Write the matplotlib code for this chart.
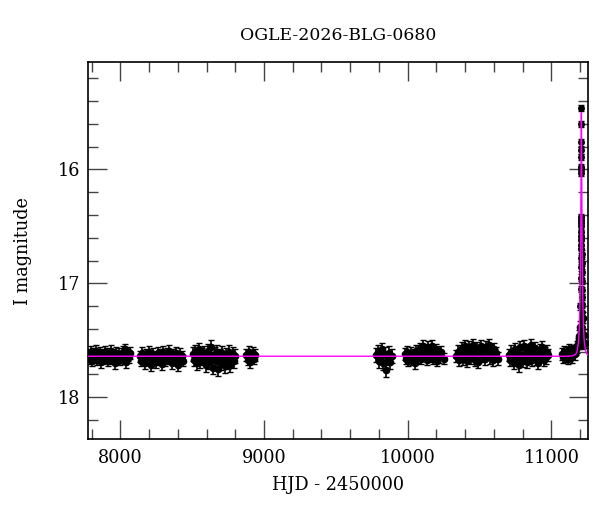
import numpy as np
import matplotlib
matplotlib.use('Agg')
from matplotlib import pyplot as plt
from matplotlib.ticker import MultipleLocator

# baseline seasons (HJD - 2450000, I mag)
s1_t = [7778, 7786, 7795, 7803, 7812, 7820, 7829, 7838, 7846, 7855, 7864, 7873, 7881, 7890, 7899, 7908, 7917,
        7925, 7934, 7943, 7952, 7961, 7970, 7979, 7988, 7997, 8006, 8015, 8024, 8033, 8042, 8051, 8060, 8068]
s1_m = [17.63, 17.66, 17.60, 17.68, 17.62, 17.65, 17.59, 17.67, 17.64, 17.61, 17.69, 17.63, 17.66, 17.60, 17.65,
        17.62, 17.68, 17.64, 17.59, 17.66, 17.63, 17.70, 17.61, 17.65, 17.62, 17.67, 17.64, 17.60, 17.66, 17.58,
        17.69, 17.63, 17.65, 17.61]
s2_t = [8134, 8143, 8152, 8161, 8170, 8179, 8188, 8197, 8206, 8215, 8224, 8233, 8242, 8251, 8260, 8269, 8278,
        8287, 8296, 8305, 8314, 8323, 8332, 8341, 8350, 8359, 8368, 8377, 8386, 8395, 8404, 8413, 8422, 8431, 8436]
s2_m = [17.64, 17.68, 17.61, 17.66, 17.70, 17.63, 17.67, 17.60, 17.65, 17.72, 17.62, 17.66, 17.64, 17.69, 17.61,
        17.67, 17.63, 17.71, 17.60, 17.65, 17.68, 17.62, 17.66, 17.59, 17.64, 17.70, 17.63, 17.67, 17.61, 17.65,
        17.72, 17.62, 17.66, 17.64, 17.68]
s3_t = [8503, 8512, 8521, 8530, 8539, 8548, 8557, 8566, 8575, 8584, 8593, 8602, 8611, 8620, 8629, 8638, 8647,
        8656, 8665, 8674, 8683, 8692, 8701, 8710, 8719, 8728, 8737, 8746, 8755, 8764, 8773, 8782, 8791, 8800]
s3_m = [17.62, 17.67, 17.60, 17.70, 17.64, 17.58, 17.68, 17.63, 17.66, 17.61, 17.72, 17.65, 17.59, 17.69, 17.56,
        17.66, 17.74, 17.62, 17.68, 17.60, 17.75, 17.64, 17.70, 17.61, 17.67, 17.73, 17.63, 17.69, 17.60, 17.72,
        17.65, 17.62, 17.68, 17.64]
s4_t = [8876, 8885, 8894, 8903, 8912, 8921, 8930, 8939]
s4_m = [17.63, 17.67, 17.60, 17.69, 17.64, 17.61, 17.66, 17.63]
s5_t = [9780, 9790, 9800, 9810, 9820, 9830, 9840, 9850, 9860, 9870, 9880, 9892]
s5_m = [17.63, 17.60, 17.68, 17.65, 17.58, 17.70, 17.62, 17.76, 17.66, 17.61, 17.69, 17.64]
s6_t = [9978, 9987, 9996, 10005, 10014, 10023, 10032, 10041, 10050, 10059, 10068, 10077, 10086, 10095, 10104,
        10113, 10122, 10131, 10140, 10149, 10158, 10167, 10176, 10185, 10194, 10203, 10212, 10221, 10230, 10255]
s6_m = [17.62, 17.66, 17.60, 17.68, 17.64, 17.61, 17.67, 17.63, 17.70, 17.59, 17.65, 17.62, 17.57, 17.66, 17.55,
        17.63, 17.58, 17.67, 17.56, 17.64, 17.60, 17.55, 17.66, 17.61, 17.58, 17.68, 17.62, 17.65, 17.60, 17.66]
s7_t = [10339, 10348, 10357, 10366, 10375, 10384, 10393, 10402, 10411, 10420, 10429, 10438, 10447, 10456, 10465,
        10474, 10483, 10492, 10501, 10510, 10519, 10528, 10537, 10546, 10555, 10564, 10573, 10582, 10591, 10600,
        10609, 10618, 10627]
s7_m = [17.64, 17.60, 17.67, 17.62, 17.57, 17.66, 17.60, 17.55, 17.68, 17.62, 17.56, 17.65, 17.59, 17.54, 17.67,
        17.61, 17.57, 17.69, 17.60, 17.55, 17.64, 17.59, 17.66, 17.56, 17.62, 17.54, 17.65, 17.60, 17.67, 17.58,
        17.63, 17.61, 17.66]
s8_t = [10703, 10712, 10721, 10730, 10739, 10748, 10757, 10766, 10775, 10784, 10793, 10802, 10811, 10820, 10829,
        10838, 10847, 10856, 10865, 10874, 10883, 10892, 10901, 10910, 10919, 10928, 10937, 10946, 10955, 10964,
        10973, 10980]
s8_m = [17.63, 17.67, 17.60, 17.65, 17.70, 17.58, 17.66, 17.62, 17.72, 17.56, 17.64, 17.68, 17.55, 17.62, 17.69,
        17.59, 17.65, 17.54, 17.67, 17.61, 17.57, 17.66, 17.62, 17.70, 17.59, 17.64, 17.56, 17.67, 17.61, 17.65,
        17.60, 17.63]
s9_t = [11074, 11082, 11090, 11098, 11106, 11114, 11122, 11130, 11138, 11146, 11154, 11162, 11170, 11178,
        11184, 11190, 11195, 11198, 11220, 11226, 11232]
s9_m = [17.62, 17.65, 17.60, 17.64, 17.61, 17.66, 17.58, 17.63, 17.60, 17.65, 17.59, 17.62, 17.58, 17.56,
        17.53, 17.50, 17.46, 17.38, 17.30, 17.45, 17.52]
s_err = [0.05, 0.05, 0.06, 0.05, 0.06, 0.05, 0.055, 0.055, 0.05]

# the event itself
ev_t = [11202, 11203, 11204, 11204, 11205, 11205, 11206, 11206, 11206, 11207, 11207, 11207, 11207, 11208,
        11208, 11208, 11208, 11209, 11209, 11209, 11209, 11209, 11210, 11210, 11210, 11211, 11211, 11211,
        11212, 11212, 11213, 11213, 11214, 11215, 11216, 11217]
ev_m = [17.20, 17.05, 16.95, 16.86, 16.78, 16.70, 16.62, 16.55, 16.47, 16.42, 16.03, 16.00, 15.98, 15.89,
        15.83, 15.76, 15.60, 15.46, 16.44, 16.50, 16.58, 16.66, 16.74, 16.82, 16.90, 16.98, 17.06, 17.12,
        17.18, 17.25, 17.32, 17.38, 17.44, 17.48, 17.52, 17.55]
ev_err = 0.03

# model curve
mod_t = [7772, 11100, 11149, 11169, 11179, 11189, 11194, 11199, 11202, 11204, 11206, 11207, 11208, 11209,
         11210, 11211, 11212, 11214, 11216, 11219, 11224, 11229, 11239, 11249, 11255]
mod_m = [17.64, 17.64, 17.637, 17.623, 17.597, 17.514, 17.40, 17.16, 16.89, 16.61, 16.22, 15.95, 15.65, 15.50,
         15.65, 15.95, 16.22, 16.61, 16.89, 17.16, 17.40, 17.514, 17.597, 17.623, 17.63]

plt.rcParams['font.family'] = ['DejaVu Serif']
plt.rcParams['font.size'] = 12.7

fig = plt.figure(figsize=(6, 5.12), dpi=100)
ax = fig.add_axes([0.146, 0.143, 0.834, 0.735])

seasons = [(s1_t, s1_m), (s2_t, s2_m), (s3_t, s3_m), (s4_t, s4_m), (s5_t, s5_m),
           (s6_t, s6_m), (s7_t, s7_m), (s8_t, s8_m), (s9_t, s9_m)]
for (t, m), e in zip(seasons, s_err):
    ax.errorbar(t, m, yerr=e, fmt='o', ms=4.5, color='k', ecolor='k', elinewidth=1.2,
                capsize=2.5, capthick=1, zorder=2)
ax.errorbar(ev_t, ev_m, yerr=ev_err, fmt='o', ms=4, color='k', ecolor='k', elinewidth=1,
            capsize=2, capthick=1, zorder=2)
ax.plot(mod_t, mod_m, color='#ff00ff', lw=1, zorder=3)

ax.set_xlim(7772, 11255)
ax.set_ylim(18.365, 15.06)
ax.xaxis.set_major_locator(MultipleLocator(1000))
ax.xaxis.set_minor_locator(MultipleLocator(200))
ax.yaxis.set_major_locator(MultipleLocator(1))
ax.yaxis.set_minor_locator(MultipleLocator(0.2))
ax.tick_params(which='both', direction='in', top=True, right=True, color='#444444', width=1)
ax.tick_params(which='major', length=13.5)
ax.tick_params(which='minor', length=7)
ax.tick_params(axis='x', which='major', pad=7)
ax.tick_params(axis='y', which='major', pad=5)
for sp in ax.spines.values():
    sp.set_linewidth(1.2)

ax.set_xlabel('HJD - 2450000', labelpad=7)
ax.set_ylabel('I magnitude', labelpad=19)
ax.set_title('OGLE-2026-BLG-0680', pad=16, fontsize=12.4)

fig.savefig('out.png', dpi=100)
